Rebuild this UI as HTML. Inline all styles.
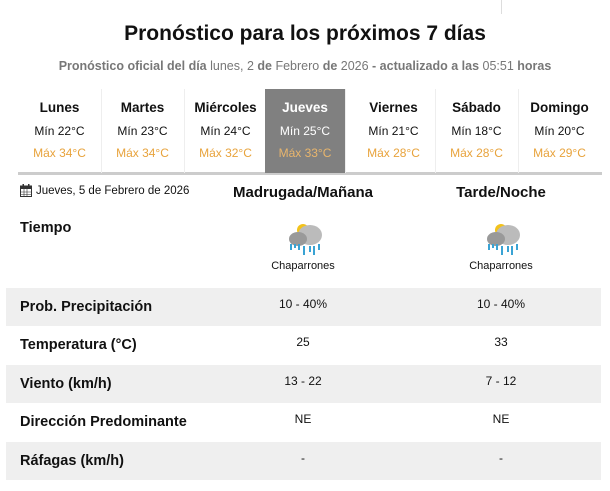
<!DOCTYPE html>
<html><head><meta charset="utf-8"><style>
body{margin:0;width:610px;height:491px;background:#fff;font-family:"Liberation Sans Narrow","Liberation Sans",sans-serif;color:#111;position:relative;overflow:hidden}
.a{position:absolute}
h1{position:absolute;top:22px;left:0;width:610px;text-align:center;margin:0;font-size:21px;font-weight:bold}
.sub{top:59px;left:0;width:610px;text-align:center;font-size:12.5px;color:#777}
.card{position:absolute;top:89px;height:84px;width:83px;text-align:center;border-right:1px solid #eee}
.card .d{margin-top:11px;font-size:13.5px;font-weight:bold}
.card .mn{margin-top:9px;font-size:12px}
.card .mx{margin-top:8px;font-size:12px;color:#e8a33c}
.sel{background:#808080;color:#fff}
.sel .mx{color:#e8b56c}
.row{position:absolute;left:6px;width:595px;height:38px}
.g{background:#efefef}
.lbl{position:absolute;left:14px;top:11px;font-size:14.5px;font-weight:bold}
.v{position:absolute;top:9px;width:120px;text-align:center;font-size:12px}
</style></head><body>
<div class="a" style="left:501px;top:0;width:1px;height:14px;background:#ddd"></div>
<h1>Pronóstico para los próximos 7 días</h1>
<div class="a sub"><b>Pronóstico oficial del día</b> lunes, 2 <b>de</b> Febrero <b>de</b> 2026 <b>- actualizado a las</b> 05:51 <b>horas</b></div>
<div class="a" style="left:18px;top:172px;width:584px;height:3px;background:#ccc"></div>
<div class="card" style="left:18px"><div class="d">Lunes</div><div class="mn">Mín 22°C</div><div class="mx">Máx 34°C</div></div>
<div class="card" style="left:101px"><div class="d">Martes</div><div class="mn">Mín 23°C</div><div class="mx">Máx 34°C</div></div>
<div class="card" style="left:184px"><div class="d">Miércoles</div><div class="mn">Mín 24°C</div><div class="mx">Máx 32°C</div></div>
<div class="card sel" style="left:265px;width:80px"><div class="d">Jueves</div><div class="mn">Mín 25°C</div><div class="mx">Máx 33°C</div></div>
<div class="card" style="left:352px"><div class="d">Viernes</div><div class="mn">Mín 21°C</div><div class="mx">Máx 28°C</div></div>
<div class="card" style="left:435px"><div class="d">Sábado</div><div class="mn">Mín 18°C</div><div class="mx">Máx 28°C</div></div>
<div class="card" style="left:518px;border-right:none"><div class="d">Domingo</div><div class="mn">Mín 20°C</div><div class="mx">Máx 29°C</div></div>

<svg class="a" style="left:20px;top:184px" width="12" height="13"><rect x="0.5" y="2" width="11" height="10.5" fill="none" stroke="#333"/><rect x="0.5" y="2" width="11" height="3" fill="#333"/><rect x="2.5" y="0" width="1.5" height="3" fill="#333"/><rect x="8" y="0" width="1.5" height="3" fill="#333"/><path d="M1 8H11M1 10.5H11M4 5V12M7 5V12" stroke="#333" stroke-width=".6"/></svg>
<div class="a" style="left:36px;top:185px;font-size:11.5px">Jueves, 5 de Febrero de 2026</div>
<div class="a" style="left:203px;width:200px;text-align:center;top:184px;font-size:15px;font-weight:bold">Madrugada/Mañana</div>
<div class="a" style="left:401px;width:200px;text-align:center;top:184px;font-size:15px;font-weight:bold">Tarde/Noche</div>

<div class="a" style="left:20px;top:220px;font-size:14.5px;font-weight:bold">Tiempo</div>
<svg class="a" style="left:285px;top:220px" width="40" height="38"><circle cx="18" cy="10" r="6" fill="#f2c21b"/><ellipse cx="25" cy="15" rx="12" ry="10" fill="#bbb"/><ellipse cx="13" cy="19" rx="9" ry="7" fill="#999"/><path d="M6 24v6M10 24v4M14 24v6M19 26v9M25 26v6M29 26v9M34 24v6" stroke="#3aa3d4" stroke-width="2"/></svg>
<svg class="a" style="left:483px;top:220px" width="40" height="38"><circle cx="18" cy="10" r="6" fill="#f2c21b"/><ellipse cx="25" cy="15" rx="12" ry="10" fill="#bbb"/><ellipse cx="13" cy="19" rx="9" ry="7" fill="#999"/><path d="M6 24v6M10 24v4M14 24v6M19 26v9M25 26v6M29 26v9M34 24v6" stroke="#3aa3d4" stroke-width="2"/></svg>
<div class="a" style="left:243px;width:120px;text-align:center;top:260px;font-size:11px">Chaparrones</div>
<div class="a" style="left:441px;width:120px;text-align:center;top:260px;font-size:11px">Chaparrones</div>

<div class="row g" style="top:288px"><div class="lbl">Prob. Precipitación</div><div class="v" style="left:237px">10 - 40%</div><div class="v" style="left:435px">10 - 40%</div></div>
<div class="row" style="top:326px"><div class="lbl">Temperatura (°C)</div><div class="v" style="left:237px">25</div><div class="v" style="left:435px">33</div></div>
<div class="row g" style="top:365px"><div class="lbl">Viento (km/h)</div><div class="v" style="left:237px">13 - 22</div><div class="v" style="left:435px">7 - 12</div></div>
<div class="row" style="top:403px"><div class="lbl">Dirección Predominante</div><div class="v" style="left:237px">NE</div><div class="v" style="left:435px">NE</div></div>
<div class="row g" style="top:442px"><div class="lbl">Ráfagas (km/h)</div><div class="v" style="left:237px">-</div><div class="v" style="left:435px">-</div></div>
</body></html>
